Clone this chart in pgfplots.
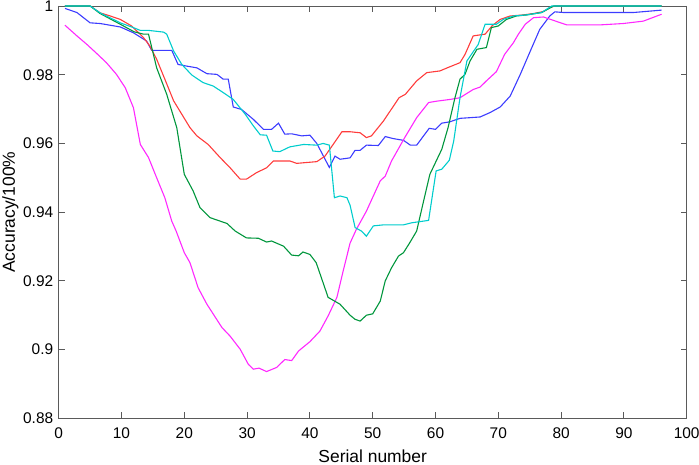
\documentclass[border=0pt]{standalone}
\usepackage{fontspec}
\setmainfont{Liberation Sans}
\usepackage{pgfplots}
\pgfplotsset{compat=1.18}
\definecolor{cB}{RGB}{60,60,255}
\definecolor{cR}{RGB}{255,60,60}
\definecolor{cG}{RGB}{0,150,60}
\definecolor{cC}{RGB}{0,205,205}
\definecolor{cM}{RGB}{255,40,255}
\definecolor{axc}{RGB}{90,90,90}
\begin{document}
\fontsize{16}{19}\selectfont
\begin{tikzpicture}
\path[use as bounding box] (-58.7bp,-46.7bp) rectangle (640.3bp,418.3bp);
\begin{axis}[
  scale only axis, width=628bp, height=412.3bp,
  xmin=0, xmax=100, ymin=0.88, ymax=1,
  xtick={0,10,...,100},
  ytick={0.88,0.9,0.92,0.94,0.96,0.98,1},
  yticklabel style={/pgf/number format/fixed, /pgf/number format/precision=2},
  xticklabel style={yshift=-4bp},
  /pgf/number format/assume math mode=true,
  tick align=inside, major tick length=6bp,
  axis line style={axc, line width=0.9bp},
  every tick/.style={axc, line width=0.9bp},
  tick label style={font=\fontsize{15.5}{18}\selectfont, text=black},
  label style={font=\fontsize{17.5}{21}\selectfont},
  xlabel={Serial number}, ylabel={Accuracy/100\%},
  xlabel style={at={(axis description cs:0.5,0)}, anchor=base, yshift=-44.2bp},
  ylabel style={at={(axis description cs:-0.0696,0.5)}, anchor=base, rotate=0},
  every axis plot/.append style={line width=1.1bp},
]
\addplot[cB] coordinates {
(1,0.9993)(2.9,0.9981)(5,0.9951)(6.6,0.9949)(9.8,0.9939)(11.9,0.9922)(14,0.9898)(14.8,0.9871)(18,0.9871)(19,0.983)(20.4,0.9825)(22,0.982)(23.6,0.9803)(25.2,0.9801)(26.2,0.9787)(27,0.9787)(27.8,0.9706)(29.1,0.9699)(31,0.967)(32.6,0.9641)(33.9,0.9641)(35,0.9659)(36,0.9627)(37.1,0.9628)(38.7,0.9622)(40,0.9624)(41.1,0.96)(43.1,0.953)(44,0.9563)(44.8,0.9554)(46.4,0.9558)(47.2,0.958)(48,0.958)(49,0.9595)(50.9,0.9594)(52,0.962)(53.3,0.9614)(54.9,0.9609)(56,0.9595)(57,0.9595)(59,0.9644)(60,0.9641)(61,0.9659)(62.3,0.9663)(63.9,0.9673)(67.1,0.9677)(68.7,0.969)(70.3,0.9706)(71.9,0.9738)(73.5,0.9801)(75.1,0.9869)(76.6,0.9932)(78.2,0.9971)(79,0.9983)(80.4,0.9981)(91.5,0.9981)(96,0.9988)
};
\addplot[cR] coordinates {
(1,1)(5,1)(6.6,0.998)(8.2,0.9971)(9.8,0.9961)(11.6,0.9942)(13.5,0.9908)(14.5,0.9884)(15.6,0.9845)(16.9,0.9787)(18.3,0.9724)(19.6,0.9685)(20.9,0.9646)(22,0.9622)(23.8,0.9597)(25.7,0.9559)(27.3,0.9529)(28.9,0.9496)(29.9,0.9496)(31.5,0.9515)(33.1,0.9529)(34.2,0.9549)(36.8,0.9549)(37.9,0.9542)(41.1,0.9547)(42.4,0.9563)(43.7,0.9597)(45.1,0.9634)(46.4,0.9634)(48,0.9631)(49,0.9617)(49.8,0.9622)(51.7,0.9665)(54.2,0.9733)(55.2,0.9743)(57,0.9782)(58.6,0.9806)(60.7,0.9811)(62,0.9821)(63.9,0.9835)(64.7,0.9859)(66,0.9913)(67.9,0.9918)(69,0.9942)(70.3,0.9961)(71.9,0.9971)(74,0.9974)(75.6,0.9978)(77.2,0.9984)(78.2,0.9995)(79,1)(96,1)
};
\addplot[cM] coordinates {
(1,0.9944)(2.9,0.9913)(4.5,0.9888)(6.1,0.9861)(7.6,0.9835)(9.2,0.9801)(10.6,0.9762)(11.9,0.9704)(13,0.9597)(14.3,0.9559)(15.6,0.95)(16.9,0.9442)(18,0.9374)(18.7,0.9345)(20,0.9282)(20.9,0.9253)(22.2,0.918)(23.6,0.9132)(26,0.9064)(27.3,0.9039)(28.9,0.9001)(30.2,0.8957)(31,0.8943)(31.9,0.8946)(33.1,0.8936)(34.7,0.8948)(36,0.8971)(37.1,0.8968)(38.2,0.8996)(40,0.9023)(41.6,0.9054)(42.9,0.9098)(44.3,0.9152)(45.3,0.9229)(46.4,0.931)(47.4,0.935)(49,0.9403)(51.2,0.9491)(52,0.9505)(53,0.9549)(55.1,0.9617)(57,0.9675)(58.9,0.9719)(60.2,0.9723)(62.3,0.9728)(63.9,0.9733)(66,0.9757)(67.1,0.9764)(68.1,0.9782)(69.7,0.9809)(71,0.9859)(72.4,0.9893)(73.2,0.9918)(74.3,0.9947)(75.6,0.9966)(77.2,0.9968)(78.8,0.9958)(80.9,0.9945)(86.2,0.9945)(89.9,0.9949)(93.1,0.9956)(96,0.9976)
};
\addplot[cG] coordinates {
(1,1)(5,1)(6.6,0.9978)(9.8,0.9947)(12,0.9925)(13.5,0.9918)(14.3,0.9918)(15.6,0.982)(17.2,0.9743)(18.8,0.9646)(20,0.951)(21.4,0.9462)(22.5,0.9413)(24.1,0.9384)(26.8,0.9367)(28.1,0.9345)(29.9,0.9325)(31.8,0.9324)(33.1,0.9313)(33.9,0.9316)(35.8,0.9301)(37.1,0.9275)(38.2,0.9273)(38.9,0.9284)(40,0.9277)(41,0.9253)(42.9,0.9152)(44.8,0.9132)(46.4,0.91)(47.2,0.9088)(48,0.9083)(49,0.91)(50,0.9104)(51.2,0.9141)(52,0.92)(53,0.9238)(54.1,0.9272)(54.9,0.9282)(55.9,0.9311)(57,0.9345)(58.1,0.9432)(59.1,0.951)(61,0.9583)(62,0.9646)(63.1,0.9733)(63.9,0.9787)(64.7,0.9801)(65.5,0.984)(66.6,0.9874)(68.1,0.9879)(68.9,0.9937)(70,0.9942)(71.3,0.9961)(72.9,0.9971)(74.5,0.9974)(76.9,0.9981)(78.8,1)(96,1)
};
\addplot[cC] coordinates {
(1,1)(5,1)(6.6,0.998)(9.8,0.9951)(11.9,0.9937)(13,0.9929)(14.3,0.9929)(16.7,0.9924)(17.2,0.9918)(18.3,0.9869)(19.6,0.983)(21.2,0.9799)(23,0.9777)(24.6,0.9767)(26.2,0.9748)(27.8,0.9728)(29.7,0.9685)(31,0.9651)(32.1,0.9625)(33.1,0.9624)(34.1,0.9578)(35.2,0.9576)(36.8,0.959)(39,0.9597)(41.1,0.9595)(42.1,0.96)(43.1,0.9595)(43.9,0.9442)(44.8,0.9447)(45.9,0.9442)(46.4,0.942)(47.2,0.9355)(48.2,0.9345)(49,0.933)(50.1,0.936)(51.7,0.9363)(54.9,0.9363)(56.2,0.9369)(58.9,0.9376)(60.1,0.952)(61,0.9525)(62.2,0.9551)(62.9,0.9607)(63.9,0.9733)(65,0.984)(66.8,0.9888)(67.9,0.9947)(69.7,0.9947)(70.8,0.9961)(72.4,0.9971)(74.5,0.9974)(76.9,0.9981)(78.5,1)(96,1)
};
\end{axis}
\end{tikzpicture}
\end{document}
